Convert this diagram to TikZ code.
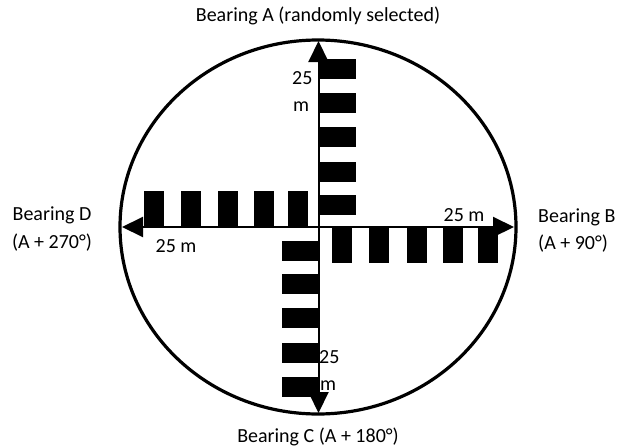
\documentclass[tikz,border=0pt]{standalone}
\usepackage{fontspec}
\setmainfont{Carlito}
\usetikzlibrary{arrows.meta}
\tikzset{
  rim/.style={line width=3.2pt},
  ray/.style={line width=2pt,-{Triangle[width=20pt,length=21pt]}},
  tape/.style={fill=black},
  lbl/.style={inner sep=0pt,font=\fontsize{20}{24}\selectfont},
}
\begin{document}
\begin{tikzpicture}[x=1pt,y=-1pt]
\useasboundingbox (0,0) rectangle (620,447);
% plot boundary
\draw[rim] (318,227) ellipse [x radius=198, y radius=187];
% centre and bearing end points
\coordinate (O) at (318.5,227);
\coordinate (tipA) at (318.5,41);
\coordinate (tipB) at (514,227);
\coordinate (tipC) at (318.5,413);
\coordinate (tipD) at (122,227);
% tape segments along each bearing
\foreach \y in {59,93,127,162,195}
  \fill[tape] (320,\y) rectangle (356,\y+20);
\foreach \x in {144,181,218,254,288}
  \fill[tape] (\x,191) rectangle (\x+20,226);
\foreach \x in {332,369,407,443,478}
  \fill[tape] (\x,228) rectangle (\x+20,263);
\foreach \y in {241,274,308,343,377}
  \fill[tape] (282,\y) rectangle (318,\y+20);
% bearings
\draw[ray] (O) -- (tipA);
\draw[ray] (O) -- (tipB);
\draw[ray] (O) -- (tipC);
\draw[ray] (O) -- (tipD);
% distance labels
\node[lbl,anchor=west] (dA1) at (292,78) {25};
\node[lbl,anchor=west] (dA2) at (293,107) {m};
\node[lbl] (dB) at (464,215) {25 m};
\node[lbl,anchor=west] (dC1) at (319,357) {25};
\node[lbl,anchor=west] (dC2) at (320,386) {m};
\node[lbl] (dD) at (176,246) {25 m};
% bearing labels
\node[lbl] (bA) at (318,16) {Bearing A (randomly selected)};
\node[lbl,anchor=west] (bB1) at (538,217) {Bearing B};
\node[lbl,anchor=west] (bB2) at (538,244) {(A + 90°)};
\node[lbl] (bC) at (318,437) {Bearing C (A + 180°)};
\node[lbl] (bD1) at (52,215) {Bearing D};
\node[lbl] (bD2) at (52,243) {(A + 270°)};
\end{tikzpicture}
\end{document}
